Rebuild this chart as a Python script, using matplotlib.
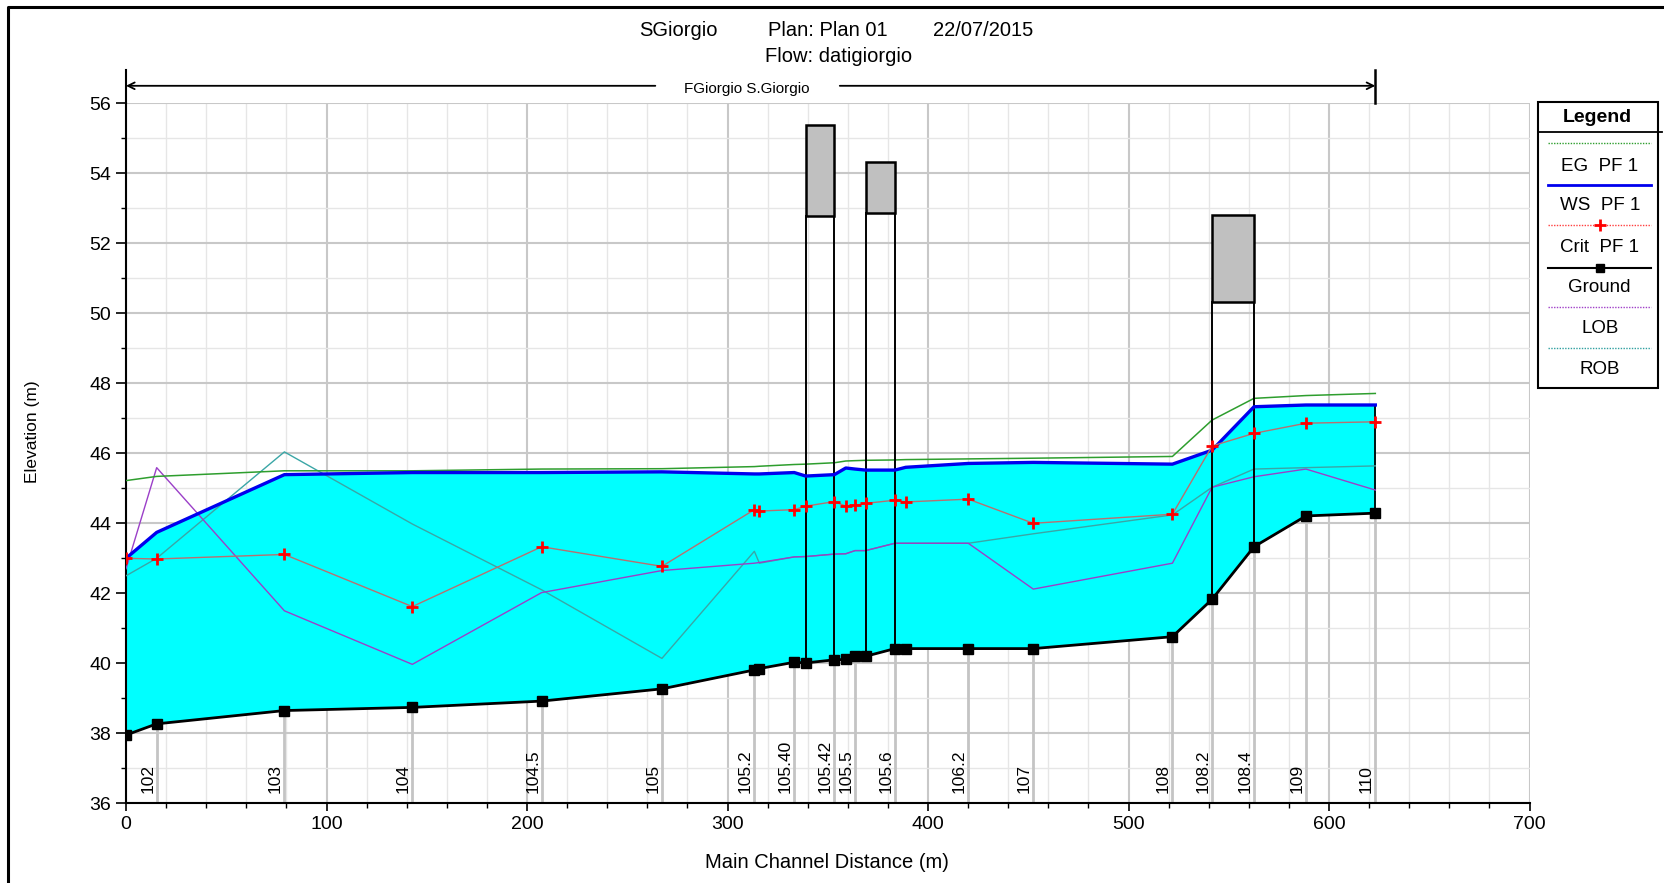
import matplotlib
matplotlib.use("Agg")
import matplotlib.pyplot as plt
from matplotlib.lines import Line2D
from matplotlib.patches import Rectangle
from matplotlib.ticker import MultipleLocator

plt.rcParams['font.family'] = ['Liberation Sans', 'DejaVu Sans']

# ---- profile data (HEC-RAS style longitudinal profile) ----
river_dist = [0.0, 15.3, 79.0, 142.8, 207.3, 267.3, 313.4, 315.9, 333.3, 339.0,
              353.3, 359.0, 363.6, 368.9, 383.5, 388.9, 420.1, 452.5, 521.9,
              541.7, 562.6, 588.5, 623.1]
station_labels = ["", "102", "103", "104", "104.5", "105", "105.2", "", "105.40", "",
                  "105.42", "", "105.5", "", "105.6", "", "106.2", "107", "108",
                  "108.2", "108.4", "109", "110"]
ground = [37.95, 38.27, 38.65, 38.74, 38.92, 39.27, 39.81, 39.85, 40.03, 40.01,
          40.10, 40.11, 40.21, 40.20, 40.42, 40.42, 40.42, 40.42, 40.76,
          41.83, 43.33, 44.21, 44.29]
ws_pf1 = [43.00, 43.74, 45.39, 45.45, 45.45, 45.47, 45.41, 45.41, 45.45, 45.35,
          45.39, 45.58, 45.55, 45.52, 45.52, 45.60, 45.71, 45.74, 45.69,
          46.09, 47.33, 47.38, 47.38]
eg_pf1 = [45.22, 45.34, 45.50, 45.50, 45.55, 45.56, 45.62, 45.63, 45.68, 45.69,
          45.73, 45.78, 45.79, 45.80, 45.81, 45.82, 45.84, 45.86, 45.91,
          46.95, 47.57, 47.65, 47.71]
crit_pf1 = [43.00, 42.98, 43.11, 41.62, 43.33, 42.77, 44.39, 44.35, 44.39, 44.49,
            44.62, 44.49, 44.51, 44.57, 44.66, 44.61, 44.69, 44.00, 44.26,
            46.21, 46.57, 46.86, 46.90]
lob = [42.70, 45.59, 41.50, 39.97, 42.02, 42.65, 42.86, 42.88, 43.04, 43.05,
       43.12, 43.13, 43.22, 43.22, 43.43, 43.43, 43.43, 42.12, 42.86,
       45.03, 45.33, 45.55, 44.95]
rob = [42.50, 43.00, 46.04, 43.98, 42.10, 40.14, 43.20, 42.86, 43.04, 43.05,
       43.12, 43.13, 43.22, 43.22, 43.43, 43.43, 43.43, 43.70, 44.24,
       45.03, 45.55, 45.59, 45.64]

# bridges: (upstream face index, downstream face index), deck top / low chord
bridge_faces = [(9, 10), (13, 14), (19, 20)]
deck_top = [55.39, 54.33, 52.80]
deck_low = [52.79, 52.87, 50.33]

reach_label = "FGiorgio S.Giorgio"

W, H = 1664, 883
fig = plt.figure(figsize=(W / 100, H / 100), dpi=100)
fig.patch.set_facecolor('white')

x0_px, x1_px = 126.0, 1529.5
y_bot_px, y_top_px = 803.3, 103.3
ax = fig.add_axes([x0_px / W, 1 - y_bot_px / H, (x1_px - x0_px) / W, (y_bot_px - y_top_px) / H])

ax.set_xlim(0, 700)
ax.set_ylim(36, 56)
ax.set_axisbelow(True)

ax.xaxis.set_major_locator(MultipleLocator(100))
ax.xaxis.set_minor_locator(MultipleLocator(20))
ax.yaxis.set_major_locator(MultipleLocator(2))
ax.yaxis.set_minor_locator(MultipleLocator(1))
ax.grid(which='major', color='#c8c8c8', lw=1.5)
ax.grid(which='minor', color='#e6e6e6', lw=1.0)

for s in ['top', 'right']:
    ax.spines[s].set_visible(False)
for s in ['left', 'bottom']:
    ax.spines[s].set_linewidth(1.5)
    ax.spines[s].set_color('black')

ax.tick_params(axis='both', which='major', labelsize=14, width=1.2, color='black')
ax.tick_params(axis='x', which='major', length=6, pad=3)
ax.tick_params(axis='y', which='major', length=7.5, pad=3)
ax.tick_params(axis='both', which='minor', length=3.5, width=1.0)

# water body between ground and water surface
ax.fill_between(river_dist, ground, ws_pf1, color='#00ffff', lw=0, zorder=2)
ax.plot([river_dist[-1], river_dist[-1]], [ground[-1], ws_pf1[-1]], color='black', lw=1.3, zorder=3)

# station lines from bottom of plot to ground
for xs, lab, g in zip(river_dist, station_labels, ground):
    if lab:
        ax.plot([xs, xs], [36, g], color='#c4c4c4', lw=2, zorder=1.5)
        ax.annotate(lab, xy=(xs, 36.3), xytext=(-1, 0), textcoords='offset points',
                    rotation=90, ha='right', va='bottom', fontsize=12.5, zorder=6)

# bridges
for (i, j), top, low in zip(bridge_faces, deck_top, deck_low):
    xl, xr = river_dist[i], river_dist[j]
    ax.plot([xl, xl], [ground[i], low], color='black', lw=1.4, zorder=4)
    ax.plot([xr, xr], [ground[j], low], color='black', lw=1.4, zorder=4)
    ax.add_patch(Rectangle((xl, low), xr - xl, top - low, facecolor='#c0c0c0',
                           edgecolor='black', lw=1.8, zorder=4))

# profile lines
ax.plot(river_dist, rob, color='#3aa6a6', lw=1.0, zorder=3)
ax.plot(river_dist, lob, color='#9b3fc8', lw=1.0, zorder=3)
ax.plot(river_dist, eg_pf1, color='#2e9e2e', lw=1.1, zorder=3)
ax.plot(river_dist, crit_pf1, color='#b87070', lw=1.0, marker='+', ms=9, mew=2,
        mec='#ff0000', zorder=5)
ax.plot(river_dist, ws_pf1, color='#0000ee', lw=2.4, zorder=4)
ax.plot(river_dist, ground, color='black', lw=2.0, marker='s', ms=6.5, zorder=5)

# reach extent arrow above plot
ya = 56.5
ax.plot([0, 0], [56, 56.95], color='black', lw=1.5, clip_on=False)
ax.plot([river_dist[-1], river_dist[-1]], [56, 56.95], color='black', lw=1.8, clip_on=False)
ax.annotate('', xy=(0, ya), xytext=(264, ya),
            arrowprops=dict(arrowstyle='->', lw=1.3, color='black', mutation_scale=12,
                            shrinkA=0, shrinkB=0), annotation_clip=False)
ax.annotate('', xy=(river_dist[-1], ya), xytext=(356, ya),
            arrowprops=dict(arrowstyle='->', lw=1.3, color='black', mutation_scale=12,
                            shrinkA=0, shrinkB=0), annotation_clip=False)
ax.text(309.6, 56.42, reach_label, ha='center', va='center', fontsize=11,
        family=['Liberation Sans Narrow', 'Liberation Sans'], clip_on=False)


def fx(px):
    return px / W


def fy(py):
    return 1 - py / H


# titles
fig.text(fx(639), fy(35.7), "SGiorgio", fontsize=14.5, va='baseline', ha='left')
fig.text(fx(768), fy(35.7), "Plan: Plan 01", fontsize=14.5, va='baseline', ha='left')
fig.text(fx(1033), fy(35.7), "22/07/2015", fontsize=14.5, va='baseline', ha='right')
fig.text(fx(839), fy(62.3), "Flow: datigiorgio", fontsize=14.5, va='baseline', ha='center')

# axis labels
fig.text(fx(826.7), fy(862), "Main Channel Distance (m)", fontsize=14.5, ha='center', va='center')
fig.text(fx(32.5), fy(431.7), "Elevation (m)", fontsize=12.5, ha='center', va='center', rotation=90)

# outer frame (left and top edges)
fig.add_artist(Line2D([fx(8), fx(8), fx(1664)], [fy(883), fy(7), fy(7)],
                      color='black', lw=2.2, transform=fig.transFigure))

# legend panel
lx0, lx1, ly0, ly1 = 1537.7, 1657.7, 102.3, 387.7
fig.add_artist(Rectangle((fx(lx0), fy(ly1)), (lx1 - lx0) / W, (ly1 - ly0) / H,
                         facecolor='white', edgecolor='black', lw=1.5,
                         transform=fig.transFigure))
fig.add_artist(Line2D([fx(lx0), fx(1661.7)], [fy(132.3), fy(132.3)],
                      color='black', lw=1.3, transform=fig.transFigure))
fig.text(fx(1597.7), fy(121.7), "Legend", fontsize=14, fontweight='bold',
         ha='center', va='baseline')

legend_items = [
    ("EG  PF 1", 143.3, 171.0, dict(color='#2e9e2e', lw=1.0, ls=(0, (1, 1)))),
    ("WS  PF 1", 184.7, 210.0, dict(color='#0000ee', lw=2.0)),
    ("Crit  PF 1", 225.0, 251.7, dict(color='#ff4040', lw=1.0, ls=(0, (1, 1)),
                                       marker='+', ms=8, mew=2, mec='#ff0000',
                                       markevery=[1])),
    ("Ground", 267.7, 292.3, dict(color='black', lw=1.5, marker='s', ms=6,
                                  markevery=[1])),
    ("LOB", 306.7, 333.3, dict(color='#a040c8', lw=1.0, ls=(0, (1, 1)))),
    ("ROB", 347.7, 374.0, dict(color='#30a0a0', lw=1.0, ls=(0, (1, 1)))),
]
for label, yline, ytext, style in legend_items:
    fig.add_artist(Line2D([fx(1547.7), fx(1599.7), fx(1650.7)], [fy(yline)] * 3,
                          transform=fig.transFigure, **style))
    fig.text(fx(1599.7), fy(ytext), label, fontsize=13.5, ha='center', va='baseline')

fig.savefig("out.png", dpi=100, facecolor='white')
